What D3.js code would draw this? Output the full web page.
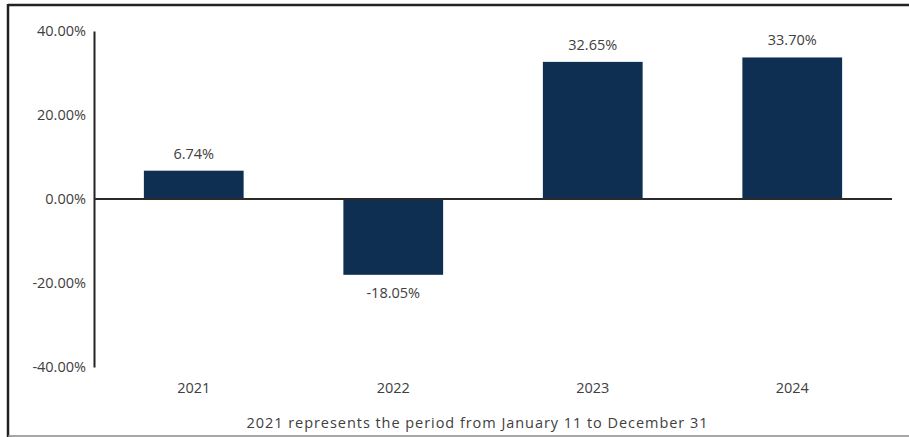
<!DOCTYPE html>
<html>
<head>
<meta charset="utf-8">
<script src="https://cdn.jsdelivr.net/npm/d3@7"></script>
<style>
  body { margin: 0; background: #fff; }
  text { font-family: "Open Sans", "Noto Sans", sans-serif; fill: #404040; }
</style>
</head>
<body>
<div id="chart"></div>
<script>
var years = ["2021", "2022", "2023", "2024"];
var returns = [6.74, -18.05, 32.65, 33.70];
var yTicks = [-40, -20, 0, 20, 40];
var note = "2021 represents the period from January 11 to December 31";

var svgWidth = 909;
var svgHeight = 437;
var fontFam = "'Open Sans', 'Noto Sans', sans-serif";
var fontSize = "14.5px";

var svg = d3.select("#chart")
  .append("svg")
  .attr("width", svgWidth)
  .attr("height", svgHeight);

// frame: dark top and left, grey bottom
svg.append("line").attr("x1", 8).attr("x2", svgWidth).attr("y1", 5).attr("y2", 5)
  .attr("stroke", "#222").attr("stroke-width", 2.5);
svg.append("line").attr("x1", 8).attr("x2", 8).attr("y1", 4).attr("y2", 437)
  .attr("stroke", "#222").attr("stroke-width", 2.5);
svg.append("line").attr("x1", 8).attr("x2", svgWidth).attr("y1", 436).attr("y2", 436)
  .attr("stroke", "#888").attr("stroke-width", 1.5);

var x = d3.scaleBand()
  .domain(years)
  .range([94, 892])
  .paddingInner(0.5)
  .paddingOuter(0.25);

var y = d3.scaleLinear()
  .domain([-40, 40])
  .range([367, 31]);

var data = years.map(function(d, i) { return { year: d, value: returns[i] }; });

svg.selectAll("rect.bar")
  .data(data)
  .enter()
  .append("rect")
  .attr("class", "bar")
  .attr("x", d => x(d.year))
  .attr("width", x.bandwidth())
  .attr("y", d => y(Math.max(0, d.value)))
  .attr("height", d => Math.abs(y(d.value) - y(0)))
  .attr("fill", "#0e2f51");

// value labels
svg.selectAll("text.val")
  .data(data)
  .enter()
  .append("text")
  .attr("class", "val")
  .attr("x", d => x(d.year) + x.bandwidth() / 2)
  .attr("y", d => d.value >= 0 ? y(d.value) - 12 : y(d.value) + 23)
  .attr("text-anchor", "middle")
  .attr("font-size", fontSize)
  .text(d => d.value.toFixed(2) + "%");

// y axis
var leftAxis = d3.axisLeft(y)
  .tickValues(yTicks)
  .tickSize(0)
  .tickPadding(8)
  .tickFormat(d => d.toFixed(2) + "%");

var yAxisG = svg.append("g")
  .attr("transform", "translate(94,0)")
  .call(leftAxis);
yAxisG.select(".domain").attr("stroke", "#222").attr("stroke-width", 2);
yAxisG.selectAll("text")
  .attr("font-size", fontSize)
  .attr("font-family", fontFam)
  .attr("fill", "#404040");

// zero line
svg.append("line")
  .attr("x1", 94).attr("x2", 892)
  .attr("y1", y(0)).attr("y2", y(0))
  .attr("stroke", "#2a2a2a").attr("stroke-width", 2);

// year labels
svg.selectAll("text.year")
  .data(years)
  .enter()
  .append("text")
  .attr("class", "year")
  .attr("x", d => x(d) + x.bandwidth() / 2)
  .attr("y", 393)
  .attr("text-anchor", "middle")
  .attr("font-size", fontSize)
  .text(d => d);

svg.append("text")
  .attr("x", 477)
  .attr("y", 428)
  .attr("text-anchor", "middle")
  .attr("font-size", fontSize)
  .attr("textLength", 461)
  .attr("lengthAdjust", "spacing")
  .text(note);
</script>
</body>
</html>
